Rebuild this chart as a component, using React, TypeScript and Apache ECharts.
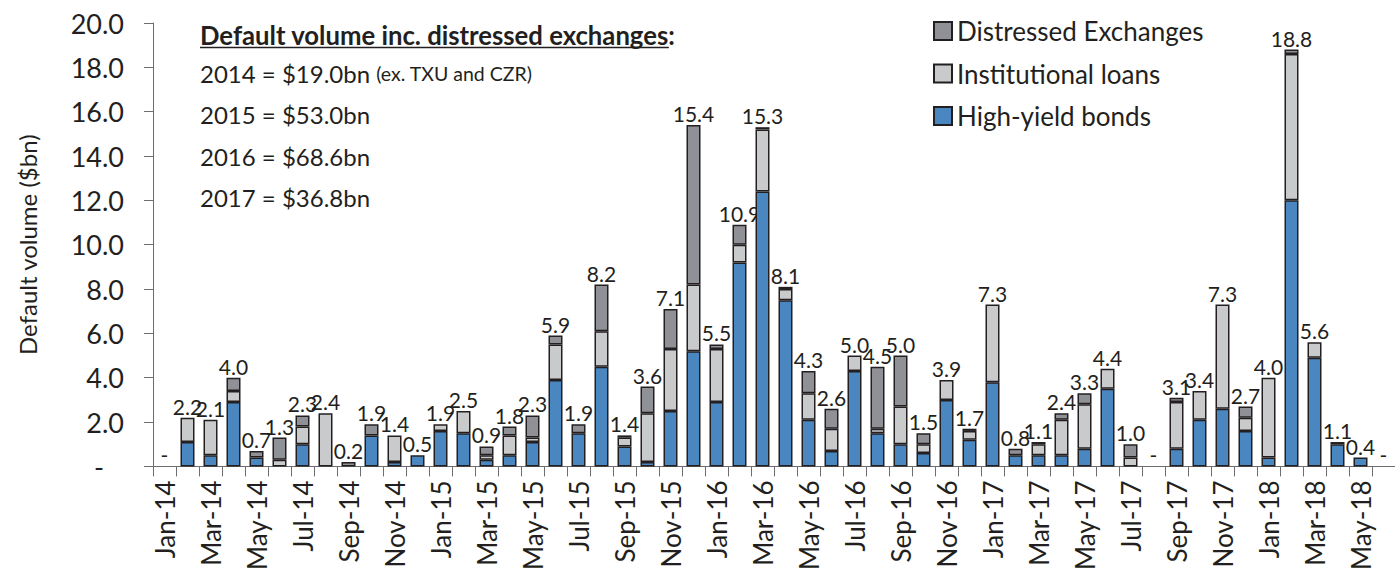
import React, { useEffect, useRef } from "react";
import * as echarts from "echarts";

const months = [
  "Jan-14","Feb-14","Mar-14","Apr-14","May-14","Jun-14","Jul-14","Aug-14","Sep-14","Oct-14","Nov-14","Dec-14",
  "Jan-15","Feb-15","Mar-15","Apr-15","May-15","Jun-15","Jul-15","Aug-15","Sep-15","Oct-15","Nov-15","Dec-15",
  "Jan-16","Feb-16","Mar-16","Apr-16","May-16","Jun-16","Jul-16","Aug-16","Sep-16","Oct-16","Nov-16","Dec-16",
  "Jan-17","Feb-17","Mar-17","Apr-17","May-17","Jun-17","Jul-17","Aug-17","Sep-17","Oct-17","Nov-17","Dec-17",
  "Jan-18","Feb-18","Mar-18","Apr-18","May-18","Jun-18",
];

const highYieldBonds = [
  0, 1.1, 0.5, 2.9, 0.4, 0, 1.0, 0, 0, 1.4, 0.2, 0.5,
  1.6, 1.5, 0.3, 0.5, 1.1, 3.9, 1.5, 4.5, 0.9, 0.2, 2.5, 5.2,
  2.9, 9.2, 12.4, 7.5, 2.1, 0.7, 4.3, 1.5, 1.0, 0.6, 3.0, 1.2,
  3.8, 0.5, 0.5, 0.5, 0.8, 3.5, 0, 0, 0.8, 2.1, 2.6, 1.6,
  0.4, 12.0, 4.9, 1.0, 0.4, 0,
];

const institutionalLoans = [
  0, 1.1, 1.6, 0.5, 0, 0.3, 0.8, 2.4, 0, 0, 1.2, 0,
  0.3, 1.0, 0.2, 0.9, 0.2, 1.6, 0, 1.6, 0.4, 2.2, 2.8, 3.0,
  2.4, 0.8, 2.8, 0.5, 1.2, 1.0, 0.7, 0.2, 1.7, 0.4, 0.9, 0.4,
  3.5, 0, 0.5, 1.6, 2.0, 0.9, 0.4, 0, 2.1, 1.3, 4.7, 0.6,
  3.6, 6.6, 0.7, 0.1, 0, 0,
];

const distressedExchanges = [
  0, 0, 0, 0.6, 0.3, 1.0, 0.5, 0, 0.2, 0.5, 0, 0,
  0, 0, 0.4, 0.4, 1.0, 0.4, 0.4, 2.1, 0.1, 1.2, 1.8, 7.2,
  0.2, 0.9, 0.1, 0.1, 1.0, 0.9, 0, 2.8, 2.3, 0.5, 0, 0.1,
  0, 0.3, 0.1, 0.3, 0.5, 0, 0.6, 0, 0.2, 0, 0, 0.5,
  0, 0.2, 0, 0, 0, 0,
];

const totalLabels = [
  0, 2.2, 2.1, 4.0, 0.7, 1.3, 2.3, 2.4, 0.2, 1.9, 1.4, 0.5,
  1.9, 2.5, 0.9, 1.8, 2.3, 5.9, 1.9, 8.2, 1.4, 3.6, 7.1, 15.4,
  5.5, 10.9, 15.3, 8.1, 4.3, 2.6, 5.0, 4.5, 5.0, 1.5, 3.9, 1.7,
  7.3, 0.8, 1.1, 2.4, 3.3, 4.4, 1.0, 0, 3.1, 3.4, 7.3, 2.7,
  4.0, 18.8, 5.6, 1.1, 0.4, 0,
];

const annotationTitle = "Default volume inc. distressed exchanges";
const annotationLines = [
  { main: "2014 = $19.0bn", note: "(ex. TXU and CZR)" },
  { main: "2015 = $53.0bn", note: "" },
  { main: "2016 = $68.6bn", note: "" },
  { main: "2017 = $36.8bn", note: "" },
];

const FONT = "Lato, 'Open Sans', sans-serif";
const INK = "#231f20";
const BORDER = "#231f20";
const AXIS = "#6d6e71";

export default function App() {
  const ref = useRef<HTMLDivElement>(null);

  useEffect(() => {
    if (!ref.current) return;
    const chart = echarts.init(ref.current, undefined, { renderer: "svg" });

    let titleWidth = 470;
    try {
      const ctx = document.createElement("canvas").getContext("2d");
      if (ctx) {
        ctx.font = "bold 25.7px Lato";
        titleWidth = ctx.measureText(annotationTitle).width;
      }
    } catch (e) {}

    const nz = (arr: number[]) => arr.map((v) => (v === 0 ? null : v));
    const barStyle = (color: string) => ({
      color,
      borderColor: BORDER,
      borderWidth: 1.5,
    });

    const graphics: any[] = [
      {
        type: "text",
        x: 200,
        y: 35,
        style: {
          text: annotationTitle + ":",
          fontFamily: FONT,
          fontSize: 25.7,
          fontWeight: "bold",
          fill: INK,
          verticalAlign: "middle",
          align: "left",
        },
      },
      {
        type: "line",
        shape: { x1: 200, y1: 47.5, x2: 200 + titleWidth, y2: 47.5 },
        style: { stroke: INK, lineWidth: 1.5 },
      },
    ];
    annotationLines.forEach((l, i) => {
      graphics.push({
        type: "text",
        x: 200,
        y: 73 + i * 41.5,
        style: {
          text: l.note ? `${l.main} {s|${l.note}}` : l.main,
          fontFamily: FONT,
          fontSize: 24,
          fill: INK,
          verticalAlign: "middle",
          align: "left",
          rich: { s: { fontFamily: FONT, fontSize: 19.5, fill: INK, verticalAlign: "middle" } },
        },
      });
    });

    chart.setOption({
      animation: false,
      backgroundColor: "#ffffff",
      textStyle: { fontFamily: FONT, color: INK },
      grid: { left: 153, top: 23, width: 1247, height: 448, containLabel: false },
      legend: {
        orient: "vertical",
        left: 933,
        top: 18,
        padding: 0,
        itemWidth: 18,
        itemHeight: 18,
        itemGap: 16.5,
        icon: "rect",
        data: ["Distressed Exchanges", "Institutional loans", "High-yield bonds"],
        textStyle: { fontFamily: FONT, fontSize: 26, color: INK, lineHeight: 26 },
      },
      xAxis: {
        type: "category",
        data: months,
        boundaryGap: true,
        axisLine: { show: true, lineStyle: { color: AXIS, width: 1 } },
        axisTick: { show: true, interval: 0, length: 10, alignWithLabel: false, lineStyle: { color: AXIS } },
        axisLabel: {
          interval: 1,
          rotate: 90,
          fontFamily: FONT,
          fontSize: 26,
          color: INK,
          margin: 14,
        },
        splitLine: { show: false },
      },
      yAxis: {
        type: "value",
        min: 0,
        max: 20,
        interval: 2,
        name: "Default volume ($bn)",
        nameLocation: "middle",
        nameGap: 114,
        nameTextStyle: { fontFamily: FONT, fontSize: 24, color: INK },
        axisLine: { show: true, lineStyle: { color: AXIS, width: 1 } },
        axisTick: { show: true, length: 9, lineStyle: { color: AXIS } },
        splitLine: { show: false },
        axisLabel: {
          fontFamily: FONT,
          fontSize: 27,
          color: INK,
          margin: 29,
          formatter: (v: number) => (v === 0 ? "{dash|-}" : v.toFixed(1)),
          rich: { dash: { fontFamily: FONT, fontSize: 27, color: INK, padding: [0, 20, 0, 0] } },
        },
      },
      graphic: graphics,
      series: [
        {
          name: "High-yield bonds",
          type: "bar",
          stack: "vol",
          barWidth: 14,
          data: nz(highYieldBonds),
          itemStyle: barStyle("#4a86c0"),
        },
        {
          name: "Institutional loans",
          type: "bar",
          stack: "vol",
          barWidth: 14,
          data: nz(institutionalLoans),
          itemStyle: barStyle("#c9cacc"),
        },
        {
          name: "Distressed Exchanges",
          type: "bar",
          stack: "vol",
          barWidth: 14,
          data: nz(distressedExchanges),
          itemStyle: barStyle("#8f9196"),
        },
        {
          name: "Total",
          type: "bar",
          barWidth: 14,
          barGap: "-100%",
          data: totalLabels,
          silent: true,
          z: 1,
          itemStyle: { color: "rgba(0,0,0,0)", borderWidth: 0 },
          label: {
            show: true,
            position: "top",
            distance: 1,
            fontFamily: FONT,
            fontSize: 21,
            color: INK,
            formatter: (p: any) => (p.value === 0 ? "-" : Number(p.value).toFixed(1)),
          },
        },
      ],
    });

    return () => chart.dispose();
  }, []);

  return (
    <div
      ref={ref}
      style={{ position: "fixed", left: 0, top: 0, width: 1395, height: 573, background: "#fff" }}
    />
  );
}
